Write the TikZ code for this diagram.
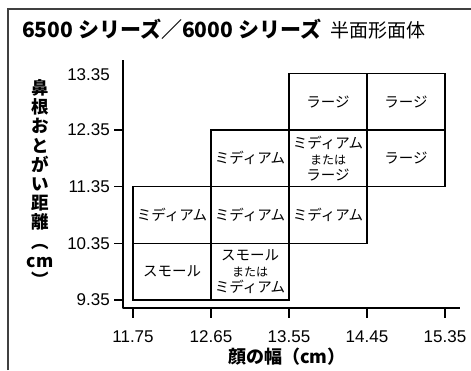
\documentclass[tikz,border=0pt]{standalone}
\usepackage{fontspec}
\newfontfamily\cjk{Noto Sans CJK JP}
\newfontfamily\tickf{Liberation Sans}
\begin{document}
\begin{tikzpicture}[x=1pt,y=-1pt,
  cell/.style={draw, line width=1.1pt, inner sep=0pt, align=center,
    minimum width=78pt, minimum height=56.7pt,
    font=\cjk\fontsize{14.5}{16}\selectfont},
  axis/.style={line width=1.2pt, line join=round},
  tick/.style={line width=1.1pt},
  ylab/.style={anchor=east, inner sep=0pt, font=\tickf\fontsize{17}{19}\selectfont},
  xlab/.style={anchor=center, inner sep=0pt, font=\tickf\fontsize{17}{19}\selectfont}]
\useasboundingbox (0,0) rectangle (471,370);
% frame
\draw[line width=1.2pt, black!75] (8,370) -- (8,9) -- (471,9);
% title
\node[anchor=base west, inner sep=0pt] (title) at (22,37)
  {{\cjk\bfseries\fontsize{21}{24}\selectfont 6500 シリーズ／6000 シリーズ}\hspace{9pt}{\cjk\fontsize{19}{22}\selectfont 半面形面体}};
% axes
\coordinate (ytop) at (123,60);
\coordinate (origin) at (123,308);
\coordinate (xend) at (460,308);
\draw[axis] (ytop) -- (origin) -- (xend);
% y ticks
\foreach \y/\t in {130/12.35,186.7/11.35,243.3/10.35,300/9.35}{
  \draw[tick] (114,\y) -- (123,\y);
  \node[ylab] at (110,\y) {\t};
}
\node[ylab] (y1335) at (110,75) {13.35};
% x ticks
\foreach \x/\t in {133/11.75,211/12.65,289/13.55,367/14.45,445/15.35}{
  \draw[tick] (\x,308) -- (\x,318);
  \node[xlab] at (\x,337) {\t};
}
% cells
\node[cell] (c11) at (172,271.65) {スモール};
\node[cell] (c21) at (250,271.65) {スモール\\{\fontsize{12}{16}\selectfont または}\\ミディアム};
\node[cell] (c12) at (172,215) {ミディアム};
\node[cell] (c22) at (250,215) {ミディアム};
\node[cell] (c32) at (328,215) {ミディアム};
\node[cell] (c23) at (250,158.35) {ミディアム};
\node[cell] (c33) at (328,158.35) {ミディアム\\{\fontsize{12}{16}\selectfont または}\\ラージ};
\node[cell] (c43) at (406,158.35) {ラージ};
\node[cell] (c34) at (328,101.65) {ラージ};
\node[cell] (c44) at (406,101.65) {ラージ};
% axis labels
\node[align=center, inner sep=0pt, font=\cjk\bfseries\fontsize{17.5}{19.2}\selectfont] (ylabel) at (40,183)
  {鼻\\根\\お\\と\\が\\い\\距\\離\\︵\\cm\\︶};
\node[inner sep=0pt, font=\cjk\bfseries\fontsize{18}{21}\selectfont] (xlabel) at (287,357) {顔の幅（cm）};
\end{tikzpicture}
\end{document}
